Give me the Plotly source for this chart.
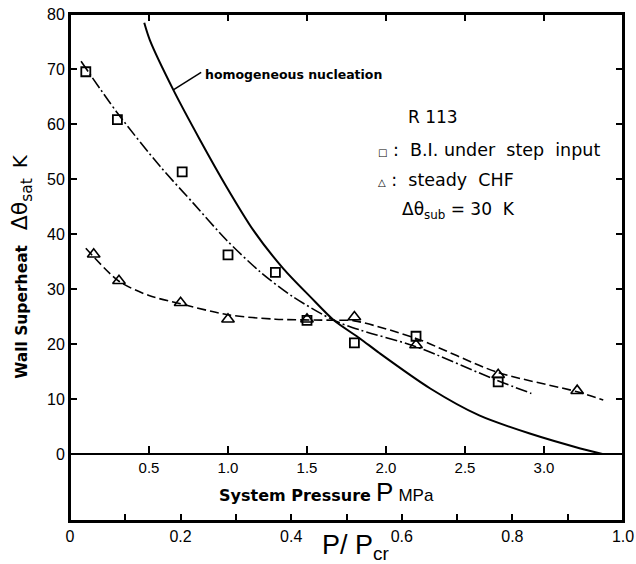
import plotly.graph_objects as go

# ---- data (P in MPa, wall superheat in K) ----
P_bi_pts = [0.10, 0.30, 0.71, 1.00, 1.30, 1.50, 1.80, 2.19, 2.71]
T_bi_pts = [69.5, 60.8, 51.3, 36.2, 33.0, 24.3, 20.2, 21.4, 13.1]

P_chf_pts = [0.15, 0.31, 0.70, 1.00, 1.50, 1.80, 2.19, 2.71, 3.21]
T_chf_pts = [36.3, 31.5, 27.5, 24.5, 24.5, 24.9, 19.8, 14.4, 11.5]

P_bi_fit = [0.07, 0.30, 0.57, 0.78, 0.99, 1.20, 1.41, 1.67, 1.84, 2.19, 2.70, 2.92]
T_bi_fit = [71.4, 62.0, 52.3, 45.6, 38.9, 33.2, 28.6, 24.3, 22.5, 19.5, 13.4, 11.0]

P_chf_fit = [0.10, 0.31, 0.50, 0.70, 1.00, 1.30, 1.67, 1.80, 2.19, 2.70, 3.21, 3.375]
T_chf_fit = [37.4, 31.4, 28.8, 27.3, 25.3, 24.5, 24.3, 24.2, 21.0, 14.9, 11.3, 9.8]

P_hom = [0.47, 0.506, 0.654, 0.823, 0.99, 1.16, 1.35, 1.52, 1.67, 1.835, 1.96, 2.28, 2.59, 2.91, 3.23, 3.37]
T_hom = [78.4, 75.2, 66.2, 57.1, 48.6, 40.7, 33.7, 28.6, 24.3, 21.0, 18.3, 11.9, 7.0, 3.7, 1.0, 0.0]

mpa_ticks = [0.5, 1.0, 1.5, 2.0, 2.5, 3.0]
mpa_labels = ["0.5", "1.0", "1.5", "2.0", "2.5", "3.0"]
pr_ticks = [0.0, 0.2, 0.4, 0.6, 0.8, 1.0]
pr_labels = ["0", "0.2", "0.4", "0.6", "0.8", "1.0"]
pr_minor = [0.1, 0.3, 0.5, 0.7, 0.9]
y_ticks = [0, 10, 20, 30, 40, 50, 60, 70, 80]

Y_MIN, Y_MAX = -12.2, 80
P_MAX = 3.5
zero_pos = -Y_MIN / (Y_MAX - Y_MIN)

FONT = "Liberation Sans"
BOLD = "DejaVu Sans"

fig = go.Figure()

# homogeneous nucleation curve on the top MPa axis (same scale as the main one)
fig.add_trace(go.Scatter(x=P_hom, y=T_hom, mode="lines", xaxis="x3", yaxis="y",
                         line=dict(color="black", width=2, shape="spline", smoothing=0.8),
                         showlegend=False, hoverinfo="skip"))
fig.add_trace(go.Scatter(x=P_bi_fit, y=T_bi_fit, mode="lines",
                         line=dict(color="black", width=1.6, dash="12px,3px,2px,3px", shape="spline", smoothing=0.8),
                         showlegend=False, hoverinfo="skip"))
fig.add_trace(go.Scatter(x=P_chf_fit, y=T_chf_fit, mode="lines",
                         line=dict(color="black", width=1.6, dash="9px,4px", shape="spline", smoothing=0.8),
                         showlegend=False, hoverinfo="skip"))
fig.add_trace(go.Scatter(x=P_bi_pts, y=T_bi_pts, mode="markers",
                         marker=dict(symbol="square-open", size=9, color="black", line=dict(width=1.8)),
                         showlegend=False, hoverinfo="skip"))
fig.add_trace(go.Scatter(x=P_chf_pts, y=T_chf_pts, mode="markers",
                         marker=dict(symbol="triangle-up-open", size=11, color="black", line=dict(width=1.6)),
                         showlegend=False, hoverinfo="skip"))
# dummy trace so the P/Pcr axis gets drawn
fig.add_trace(go.Scatter(x=[None], y=[None], xaxis="x2", yaxis="y", showlegend=False, hoverinfo="skip"))

axis_common = dict(showgrid=False, zeroline=False, showline=True, linecolor="black", linewidth=2,
                   ticks="inside", tickcolor="black", tickwidth=1.5, ticklen=7, automargin=False)

fig.update_layout(
    template="none",
    width=636, height=564,
    margin=dict(l=70, r=13, t=14, b=43, pad=0),
    paper_bgcolor="white", plot_bgcolor="white",
    font=dict(family=FONT, color="black"),
    showlegend=False,
    xaxis=dict(range=[0, P_MAX], anchor="free", position=zero_pos, side="bottom",
               tickvals=mpa_ticks, ticktext=mpa_labels, tickfont=dict(size=15, family=FONT),
               **axis_common),
    xaxis2=dict(range=[0, 1], overlaying="x", anchor="y", side="bottom",
                tickvals=pr_ticks, ticktext=pr_labels, tickfont=dict(size=16, family=FONT),
                minor=dict(tickvals=pr_minor, ticks="inside", ticklen=7, tickcolor="black", tickwidth=1.5,
                           showgrid=False),
                **axis_common),
    xaxis3=dict(range=[0, P_MAX], overlaying="x", anchor="y", side="top",
                tickvals=mpa_ticks, showticklabels=False, **axis_common),
    yaxis=dict(range=[Y_MIN, Y_MAX], tickvals=y_ticks, ticktext=[str(v) for v in y_ticks],
               tickfont=dict(size=16, family=FONT), mirror="ticks", **axis_common),
)

# plot frame
fig.add_shape(type="rect", xref="paper", yref="paper", x0=0, y0=0, x1=1, y1=1,
              line=dict(color="black", width=2), fillcolor="rgba(0,0,0,0)", layer="above")

# leader line for the homogeneous nucleation label
fig.add_shape(type="line", xref="x", yref="y", x0=0.654, y0=66.2, x1=0.83, y1=69.4,
              line=dict(color="black", width=1.5))

LEG = "DejaVu Sans"
ann = [
    dict(x=0.842, y=69.0, xref="x", yref="y", xanchor="left", yanchor="middle",
         text="<b>homogeneous nucleation</b>", font=dict(size=12.5, family=BOLD)),
    dict(x=2.30, y=61.3, xref="x", yref="y", xanchor="center", yanchor="middle",
         text="R 113", font=dict(size=17, family=LEG)),
    dict(x=1.937, y=55.2, xref="x", yref="y", xanchor="left", yanchor="middle",
         text="<span style='font-size:10px'>□</span> :  B.I. under  step  input", font=dict(size=17.5, family=LEG)),
    dict(x=1.937, y=49.8, xref="x", yref="y", xanchor="left", yanchor="middle",
         text="<span style='font-size:10px'>△</span> :  steady  CHF", font=dict(size=17.5, family=LEG)),
    dict(x=2.089, y=44.3, xref="x", yref="y", xanchor="left", yanchor="middle",
         text="Δθ<sub>sub</sub> = 30  K", font=dict(size=17, family=LEG)),
    dict(x=-0.087, y=0.503, xref="paper", yref="paper", xanchor="center", yanchor="middle", textangle=-90,
         text="<b>Wall Superheat</b>   <span style='font-size:22px'>Δθ<sub>sat</sub></span>  <span style='font-size:20px'>K</span>",
         font=dict(size=15.5, family=BOLD)),
    dict(x=0.464, y=0.0566, xref="paper", yref="paper", xanchor="center", yanchor="middle",
         text="<b>System Pressure</b> <span style='font-size:26px;font-family:Liberation Sans'>P</span> <span style='font-size:17px;font-family:Liberation Sans'>MPa</span>",
         font=dict(size=16, family=BOLD)),
    dict(x=0.517, y=-0.052, xref="paper", yref="paper", xanchor="center", yanchor="middle",
         text="P/ P<sub>cr</sub>", font=dict(size=27, family=FONT)),
]
for a in ann:
    a.setdefault("showarrow", False)
    fig.add_annotation(**a)

fig.write_html("out.html")
